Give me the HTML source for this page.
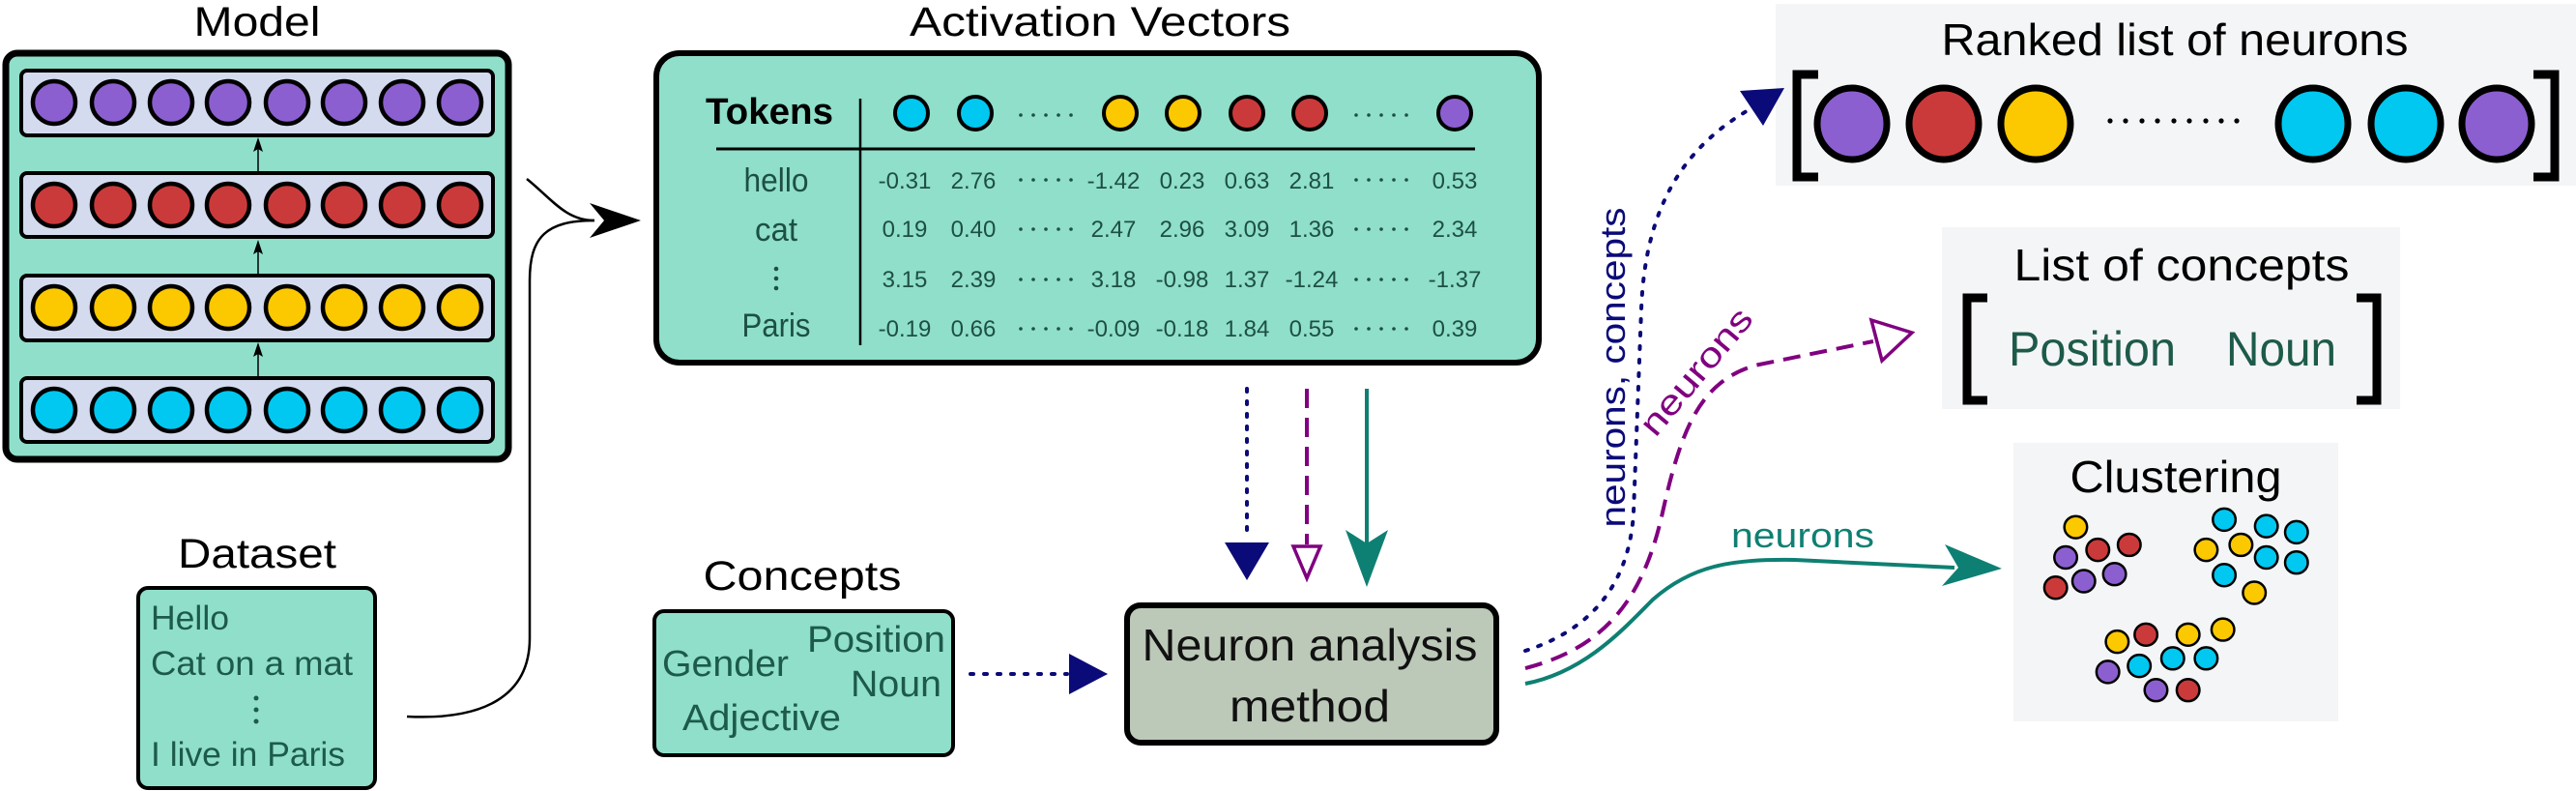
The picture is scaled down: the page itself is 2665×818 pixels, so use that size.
<!DOCTYPE html>
<html><head><meta charset="utf-8"><style>
html,body{margin:0;padding:0;background:#fff;}
svg{display:block;}
text{font-family:"Liberation Sans",sans-serif;}
</style></head><body>
<svg width="2665" height="818" viewBox="0 0 2665 818" xmlns="http://www.w3.org/2000/svg">
<!-- Model -->
<text x="266" y="37" font-size="43" text-anchor="middle" textLength="131" lengthAdjust="spacingAndGlyphs">Model</text>
<rect x="6" y="55" width="520" height="420" rx="12" fill="#8fdfca" stroke="#000" stroke-width="7"/>
<g stroke="#000" stroke-width="4">
<rect x="22" y="73" width="488" height="67" rx="6" fill="#d5dbef"/>
<rect x="22" y="179" width="488" height="66" rx="6" fill="#d5dbef"/>
<rect x="22" y="285" width="488" height="67" rx="6" fill="#d5dbef"/>
<rect x="22" y="391" width="488" height="66" rx="6" fill="#d5dbef"/>
</g>
<g stroke="#000" stroke-width="4.5">
<g fill="#8c5fd0"><circle cx="56" cy="106" r="22"/><circle cx="117" cy="106" r="22"/><circle cx="177" cy="106" r="22"/><circle cx="236" cy="106" r="22"/><circle cx="297" cy="106" r="22"/><circle cx="356" cy="106" r="22"/><circle cx="416" cy="106" r="22"/><circle cx="476" cy="106" r="22"/></g>
<g fill="#cb3a3a"><circle cx="56" cy="212" r="22"/><circle cx="117" cy="212" r="22"/><circle cx="177" cy="212" r="22"/><circle cx="236" cy="212" r="22"/><circle cx="297" cy="212" r="22"/><circle cx="356" cy="212" r="22"/><circle cx="416" cy="212" r="22"/><circle cx="476" cy="212" r="22"/></g>
<g fill="#fcc800"><circle cx="56" cy="318" r="22"/><circle cx="117" cy="318" r="22"/><circle cx="177" cy="318" r="22"/><circle cx="236" cy="318" r="22"/><circle cx="297" cy="318" r="22"/><circle cx="356" cy="318" r="22"/><circle cx="416" cy="318" r="22"/><circle cx="476" cy="318" r="22"/></g>
<g fill="#00c8f0"><circle cx="56" cy="424" r="22"/><circle cx="117" cy="424" r="22"/><circle cx="177" cy="424" r="22"/><circle cx="236" cy="424" r="22"/><circle cx="297" cy="424" r="22"/><circle cx="356" cy="424" r="22"/><circle cx="416" cy="424" r="22"/><circle cx="476" cy="424" r="22"/></g>
</g>
<g stroke="#000" stroke-width="1.5"><line x1="267" y1="179" x2="267" y2="145"/><line x1="267" y1="285" x2="267" y2="251"/><line x1="267" y1="391" x2="267" y2="357"/></g>
<g fill="#000"><polygon points="267,142 262,157 267,154 272,157"/><polygon points="267,248 262,263 267,260 272,263"/><polygon points="267,354 262,369 267,366 272,369"/></g>

<!-- Dataset -->
<text x="266" y="587" font-size="43" text-anchor="middle" textLength="164" lengthAdjust="spacingAndGlyphs">Dataset</text>
<rect x="143" y="608" width="245" height="207" rx="10" fill="#8fdfca" stroke="#000" stroke-width="4"/>
<g fill="#1d5a4a" font-size="35">
<text x="156" y="651" textLength="81" lengthAdjust="spacingAndGlyphs">Hello</text>
<text x="156" y="698" textLength="209" lengthAdjust="spacingAndGlyphs">Cat on a mat</text>
<text x="156" y="792" textLength="201" lengthAdjust="spacingAndGlyphs">I live in Paris</text>
<circle cx="265" cy="722" r="2.5"/><circle cx="265" cy="734" r="2.5"/><circle cx="265" cy="746" r="2.5"/>
</g>

<!-- connectors into activation -->
<g fill="none" stroke="#000" stroke-width="2.5">
<path d="M421,741 C500,745 548,720 548,660 L548,290 C548,245 565,228 615,228"/>
<path d="M545,185 C570,205 585,228 615,228"/>
</g>
<polygon points="663,228 610,210 625,228 610,246" fill="#000"/>

<!-- Activation Vectors -->
<text x="1138" y="37" font-size="43" text-anchor="middle" textLength="394" lengthAdjust="spacingAndGlyphs">Activation Vectors</text>
<rect x="679" y="55" width="913" height="320" rx="24" fill="#8fdfca" stroke="#000" stroke-width="6"/>
<text x="730" y="128" font-size="38" font-weight="bold" textLength="132" lengthAdjust="spacingAndGlyphs">Tokens</text>
<line x1="890" y1="102" x2="890" y2="357" stroke="#000" stroke-width="2.5"/>
<line x1="741" y1="154" x2="1526" y2="154" stroke="#000" stroke-width="3"/>
<g stroke="#000" stroke-width="4">
<circle cx="943" cy="117" r="17" fill="#00c8f0"/><circle cx="1009" cy="117" r="17" fill="#00c8f0"/>
<circle cx="1159" cy="117" r="17" fill="#fcc800"/><circle cx="1224" cy="117" r="17" fill="#fcc800"/>
<circle cx="1290" cy="117" r="17" fill="#cb3a3a"/><circle cx="1355" cy="117" r="17" fill="#cb3a3a"/>
<circle cx="1505" cy="117" r="17" fill="#8c5fd0"/>
</g>
<g fill="#1d4f45">
<g id="dots1"><circle cx="1056" cy="119" r="1.8"/><circle cx="1069" cy="119" r="1.8"/><circle cx="1082" cy="119" r="1.8"/><circle cx="1095" cy="119" r="1.8"/><circle cx="1108" cy="119" r="1.8"/>
<circle cx="1403" cy="119" r="1.8"/><circle cx="1416" cy="119" r="1.8"/><circle cx="1429" cy="119" r="1.8"/><circle cx="1442" cy="119" r="1.8"/><circle cx="1455" cy="119" r="1.8"/></g>
<use href="#dots1" y="67"/><use href="#dots1" y="118"/><use href="#dots1" y="170"/><use href="#dots1" y="221"/>
</g>
<g fill="#1d4f45" font-size="34" text-anchor="middle">
<text x="803" y="198" textLength="67" lengthAdjust="spacingAndGlyphs">hello</text>
<text x="803" y="249" textLength="44" lengthAdjust="spacingAndGlyphs">cat</text>
<text x="803" y="348" textLength="71" lengthAdjust="spacingAndGlyphs">Paris</text>
</g>
<g fill="#1d4f45"><circle cx="803" cy="278" r="2.3"/><circle cx="803" cy="288" r="2.3"/><circle cx="803" cy="298" r="2.3"/></g>
<g fill="#1d4f45" font-size="24" text-anchor="middle">
<text y="195"><tspan x="936">-0.31</tspan><tspan x="1007">2.76</tspan><tspan x="1152">-1.42</tspan><tspan x="1223">0.23</tspan><tspan x="1290">0.63</tspan><tspan x="1357">2.81</tspan><tspan x="1505">0.53</tspan></text>
<text y="245"><tspan x="936">0.19</tspan><tspan x="1007">0.40</tspan><tspan x="1152">2.47</tspan><tspan x="1223">2.96</tspan><tspan x="1290">3.09</tspan><tspan x="1357">1.36</tspan><tspan x="1505">2.34</tspan></text>
<text y="297"><tspan x="936">3.15</tspan><tspan x="1007">2.39</tspan><tspan x="1152">3.18</tspan><tspan x="1223">-0.98</tspan><tspan x="1290">1.37</tspan><tspan x="1357">-1.24</tspan><tspan x="1505">-1.37</tspan></text>
<text y="348"><tspan x="936">-0.19</tspan><tspan x="1007">0.66</tspan><tspan x="1152">-0.09</tspan><tspan x="1223">-0.18</tspan><tspan x="1290">1.84</tspan><tspan x="1357">0.55</tspan><tspan x="1505">0.39</tspan></text>
</g>

<!-- vertical arrows -->
<line x1="1290" y1="402" x2="1290" y2="558" stroke="#0a0a78" stroke-width="4" stroke-dasharray="3 10" stroke-linecap="round"/>
<polygon points="1290,600 1267,561 1313,561" fill="#0a0a78"/>
<line x1="1352" y1="402" x2="1352" y2="563" stroke="#800080" stroke-width="4" stroke-dasharray="20 10"/>
<polygon points="1352,598 1338,565 1366,565" fill="#fff" stroke="#800080" stroke-width="3.5"/>
<line x1="1414" y1="402" x2="1414" y2="565" stroke="#0e8073" stroke-width="4"/>
<polygon points="1414,607 1392,548 1414,562 1436,548" fill="#0e8073"/>

<!-- Concepts -->
<text x="830" y="610" font-size="43" text-anchor="middle" textLength="205" lengthAdjust="spacingAndGlyphs">Concepts</text>
<rect x="677" y="632" width="309" height="149" rx="10" fill="#8fdfca" stroke="#000" stroke-width="4"/>
<g fill="#1d5a4a" font-size="38">
<text x="835" y="674" textLength="143" lengthAdjust="spacingAndGlyphs">Position</text>
<text x="880" y="720" textLength="94" lengthAdjust="spacingAndGlyphs">Noun</text>
<text x="685" y="699" textLength="131" lengthAdjust="spacingAndGlyphs">Gender</text>
<text x="706" y="755" textLength="164" lengthAdjust="spacingAndGlyphs">Adjective</text>
</g>
<line x1="1004" y1="697" x2="1104" y2="697" stroke="#0a0a78" stroke-width="4" stroke-dasharray="3 11" stroke-linecap="round"/>
<polygon points="1146,697 1106,676 1106,718" fill="#0a0a78"/>

<!-- Neuron analysis -->
<rect x="1166" y="626" width="382" height="142" rx="14" fill="#bcc8b8" stroke="#000" stroke-width="6"/>
<g font-size="46" text-anchor="middle" fill="#111">
<text x="1355" y="683" textLength="347" lengthAdjust="spacingAndGlyphs">Neuron analysis</text>
<text x="1355" y="746" textLength="166" lengthAdjust="spacingAndGlyphs">method</text>
</g>

<!-- right boxes -->
<rect x="1837" y="4" width="828" height="188" fill="#f4f5f6"/>
<rect x="2009" y="235" width="474" height="188" fill="#f4f5f6"/>
<rect x="2083" y="458" width="336" height="288" fill="#f4f5f6"/>

<text x="2250" y="57" font-size="46" text-anchor="middle" textLength="483" lengthAdjust="spacingAndGlyphs">Ranked list of neurons</text>
<g fill="none" stroke="#000" stroke-width="9">
<path d="M1881,77 H1859 V183 H1881"/><path d="M2621,77 H2643 V183 H2621"/>
<path d="M2056,308 H2035 V414 H2056"/><path d="M2438,308 H2459 V414 H2438"/>
</g>
<g stroke="#000" stroke-width="7">
<ellipse cx="1916" cy="128" rx="36" ry="37" fill="#8c5fd0"/>
<ellipse cx="2011" cy="128" rx="36" ry="37" fill="#cb3a3a"/>
<ellipse cx="2106" cy="128" rx="36" ry="37" fill="#fcc800"/>
<ellipse cx="2393" cy="128" rx="36" ry="37" fill="#00c8f0"/>
<ellipse cx="2489" cy="128" rx="36" ry="37" fill="#00c8f0"/>
<ellipse cx="2583" cy="128" rx="36" ry="37" fill="#8c5fd0"/>
</g>
<g fill="#000"><circle cx="2183" cy="125" r="2.6"/><circle cx="2199" cy="125" r="2.6"/><circle cx="2216" cy="125" r="2.6"/><circle cx="2232" cy="125" r="2.6"/><circle cx="2249" cy="125" r="2.6"/><circle cx="2265" cy="125" r="2.6"/><circle cx="2282" cy="125" r="2.6"/><circle cx="2298" cy="125" r="2.6"/><circle cx="2314" cy="125" r="2.6"/></g>

<text x="2257" y="290" font-size="46" text-anchor="middle" textLength="347" lengthAdjust="spacingAndGlyphs">List of concepts</text>
<g fill="#1d5a4a" font-size="50">
<text x="2078" y="378" textLength="173" lengthAdjust="spacingAndGlyphs">Position</text>
<text x="2303" y="378" textLength="114" lengthAdjust="spacingAndGlyphs">Noun</text>
</g>

<text x="2251" y="509" font-size="46" text-anchor="middle" textLength="219" lengthAdjust="spacingAndGlyphs">Clustering</text>
<g transform="translate(1580 0) scale(0.692 0.5217)" stroke="#000" stroke-width="2.5">
<g fill="#fcc800"><ellipse cx="820" cy="1045" rx="17" ry="22" vector-effect="non-scaling-stroke"/><ellipse cx="1015" cy="1090" rx="17" ry="22" vector-effect="non-scaling-stroke"/><ellipse cx="1067" cy="1080" rx="17" ry="22" vector-effect="non-scaling-stroke"/><ellipse cx="1087" cy="1175" rx="17" ry="22" vector-effect="non-scaling-stroke"/><ellipse cx="882" cy="1272" rx="17" ry="22" vector-effect="non-scaling-stroke"/><ellipse cx="988" cy="1258" rx="17" ry="22" vector-effect="non-scaling-stroke"/><ellipse cx="1040" cy="1248" rx="17" ry="22" vector-effect="non-scaling-stroke"/></g>
<g fill="#cb3a3a"><ellipse cx="900" cy="1080" rx="17" ry="22" vector-effect="non-scaling-stroke"/><ellipse cx="853" cy="1090" rx="17" ry="22" vector-effect="non-scaling-stroke"/><ellipse cx="790" cy="1165" rx="17" ry="22" vector-effect="non-scaling-stroke"/><ellipse cx="925" cy="1258" rx="17" ry="22" vector-effect="non-scaling-stroke"/><ellipse cx="988" cy="1368" rx="17" ry="22" vector-effect="non-scaling-stroke"/></g>
<g fill="#8c5fd0"><ellipse cx="805" cy="1105" rx="17" ry="22" vector-effect="non-scaling-stroke"/><ellipse cx="878" cy="1138" rx="17" ry="22" vector-effect="non-scaling-stroke"/><ellipse cx="832" cy="1152" rx="17" ry="22" vector-effect="non-scaling-stroke"/><ellipse cx="868" cy="1332" rx="17" ry="22" vector-effect="non-scaling-stroke"/><ellipse cx="940" cy="1368" rx="17" ry="22" vector-effect="non-scaling-stroke"/></g>
<g fill="#00c8f0"><ellipse cx="1042" cy="1030" rx="17" ry="22" vector-effect="non-scaling-stroke"/><ellipse cx="1105" cy="1043" rx="17" ry="22" vector-effect="non-scaling-stroke"/><ellipse cx="1150" cy="1055" rx="17" ry="22" vector-effect="non-scaling-stroke"/><ellipse cx="1105" cy="1105" rx="17" ry="22" vector-effect="non-scaling-stroke"/><ellipse cx="1150" cy="1115" rx="17" ry="22" vector-effect="non-scaling-stroke"/><ellipse cx="1042" cy="1140" rx="17" ry="22" vector-effect="non-scaling-stroke"/><ellipse cx="915" cy="1320" rx="17" ry="22" vector-effect="non-scaling-stroke"/><ellipse cx="965" cy="1305" rx="17" ry="22" vector-effect="non-scaling-stroke"/><ellipse cx="1015" cy="1305" rx="17" ry="22" vector-effect="non-scaling-stroke"/></g>
</g>

<!-- output curves -->
<path d="M1578,673 C1650,650 1686,600 1690,530 L1698,320 C1702,210 1745,150 1812,112" fill="none" stroke="#0a0a78" stroke-width="4" stroke-dasharray="3 11" stroke-linecap="round"/>
<polygon points="1800,94 1846,91 1824,130" fill="#0a0a78"/>
<path d="M1578,691 C1660,670 1700,620 1720,530 C1740,440 1760,395 1815,378 L1938,353" fill="none" stroke="#800080" stroke-width="4" stroke-dasharray="18 10"/>
<polygon points="1936,331 1978,344 1947,373" fill="#fff" stroke="#800080" stroke-width="3.5"/>
<path d="M1578,707 C1640,695 1680,650 1710,620 C1750,585 1790,578 1857,579 L2022,587" fill="none" stroke="#0e8073" stroke-width="4"/>
<polygon points="2071,588 2012,563 2026,587 2009,606" fill="#0e8073"/>

<text transform="translate(1681 380) rotate(-90)" font-size="36" fill="#0a0a78" text-anchor="middle" textLength="331" lengthAdjust="spacingAndGlyphs">neurons, concepts</text>
<text transform="translate(1764 392) rotate(-50)" font-size="36" fill="#800080" text-anchor="middle" textLength="160" lengthAdjust="spacingAndGlyphs">neurons</text>
<text x="1791" y="566" font-size="36" fill="#0e8073" textLength="148" lengthAdjust="spacingAndGlyphs">neurons</text>
</svg>
</body></html>
